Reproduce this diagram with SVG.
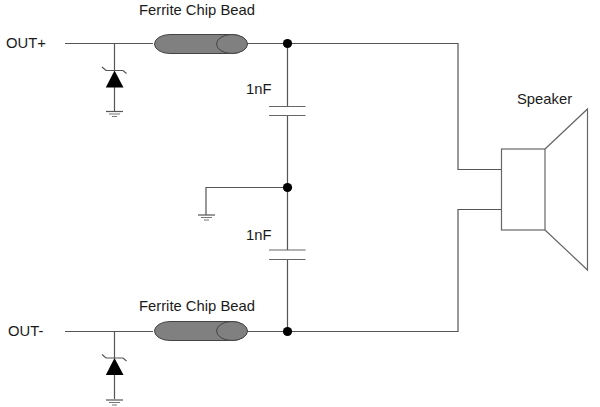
<svg xmlns="http://www.w3.org/2000/svg" width="600" height="407" viewBox="0 0 600 407">
<style>
text{font-family:"Liberation Sans",Arial,sans-serif;font-size:14.800px;fill:#1a1a1a}
.w{fill:none;stroke:#555;stroke-width:1.2}
.s{fill:none;stroke:#666;stroke-width:1.2}
.g{fill:none;stroke:#777;stroke-width:1.1}
.b{fill:#808080;stroke:#444;stroke-width:1}
.d{fill:#000;stroke:none}
</style>
<defs>
<g id="gnd"><path class="w" d="M-8.500 0H8.500"/><path class="g" d="M-5.500 2.500H5.500M-2.500 5H2.500"/></g>
<g id="bead"><rect class="b" x="154.500" y="-9.500" width="92.500" height="19" rx="15.500" ry="9.500"/><ellipse class="b" cx="232" cy="0" rx="15.500" ry="9.500"/></g>
<g id="tvs"><path class="w" d="M102 -3.500L106 0H123L126.500 3"/><path class="d" d="M114.500 0L123.500 17H105.800Z"/></g>
</defs>
<g id="connectors">
<path class="w" d="M65 43.500H153M247 43.500H458V169.500H501"/>
<path class="w" d="M65 331.500H153M247 331.500H458V209.500H501"/>
<path class="w" d="M114.500 43.500V70M114.500 87V111"/>
<path class="w" d="M114.500 331.500V358M114.500 375V399"/>
<path class="w" d="M287.500 43.500V106.500M287.500 115.500V250M287.500 259.500V331.500"/>
<path class="w" d="M287.500 187.500H206V215"/>
</g>
<g id="out-plus"><text x="6" y="48">OUT+</text></g>
<g id="out-minus"><text x="8" y="336">OUT-</text></g>
<g id="bead-top"><use href="#bead" y="44"/><text x="139" y="15">Ferrite Chip Bead</text></g>
<g id="bead-bottom"><use href="#bead" y="331"/><text x="139" y="311">Ferrite Chip Bead</text></g>
<g id="tvs-top"><use href="#tvs" y="70.500"/><use href="#gnd" x="114.500" y="111.500"/></g>
<g id="tvs-bottom"><use href="#tvs" y="358"/><use href="#gnd" x="114.500" y="400"/></g>
<g id="junction-top"><circle class="d" cx="287.500" cy="43.500" r="4.600"/></g>
<g id="junction-mid"><circle class="d" cx="287.500" cy="187.500" r="4.600"/></g>
<g id="junction-bottom"><circle class="d" cx="287.500" cy="331.500" r="4.600"/></g>
<g id="cap-top"><path class="s" d="M269 106.500H305.500M269 115.500H305.500"/><text x="246" y="94">1nF</text></g>
<g id="cap-bottom"><path class="s" d="M269 250H305.500M269 259.500H305.500"/><text x="246" y="240">1nF</text></g>
<g id="ground-mid"><use href="#gnd" x="206.500" y="215"/></g>
<g id="speaker"><rect class="s" x="501.500" y="149" width="43.500" height="81"/><path class="s" d="M545 149L587.500 109V270L545 230"/><text x="517" y="104">Speaker</text></g>
</svg>
